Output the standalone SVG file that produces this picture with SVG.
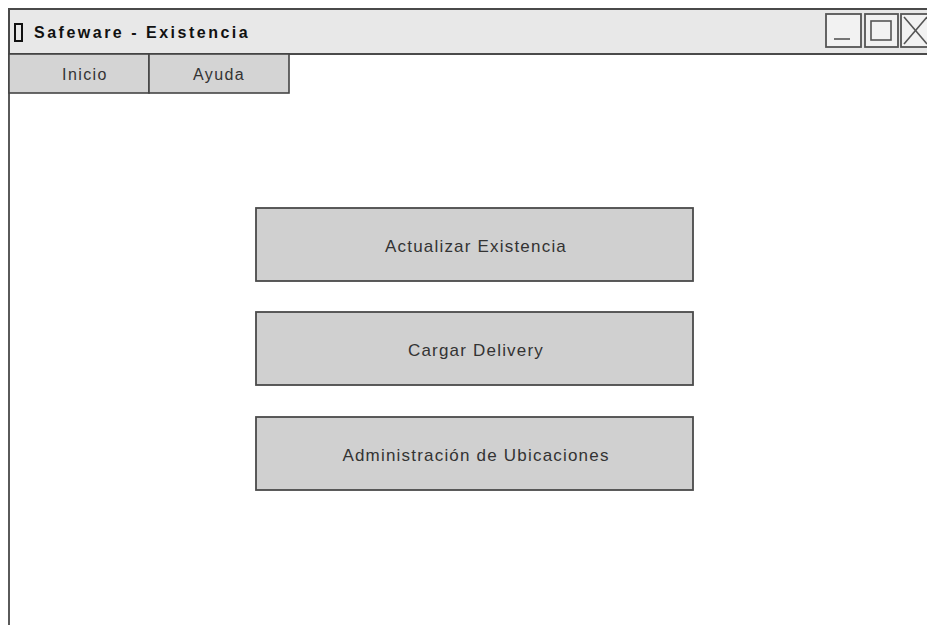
<svg xmlns="http://www.w3.org/2000/svg" width="927" height="625" viewBox="0 0 927 625">
  <defs>
    <style>
      .frame { fill: #ffffff; stroke: #5a5a5a; stroke-width: 2; }
      .titlebar { fill: #e8e8e8; stroke: #4a4a4a; stroke-width: 2; }
      .tab { fill: #d4d4d4; stroke: #444444; stroke-width: 1.6; }
      .btn { fill: #d0d0d0; stroke: #4a4a4a; stroke-width: 1.8; }
      .winbtn { fill: #f2f2f2; stroke: #555555; stroke-width: 1.8; }
      .glyph { fill: none; stroke: #555555; stroke-width: 1.6; }
      .label { font-family: "Comic Sans MS", "Liberation Sans", "DejaVu Sans", sans-serif; fill: #2a2a2a; }
      .title { font-size: 16px; font-weight: bold; letter-spacing: 2.5px; fill: #111111; }
      .menu { font-size: 16px; letter-spacing: 1.4px; text-anchor: middle; fill: #333333; }
      .action { font-size: 17px; letter-spacing: 1.2px; text-anchor: middle; fill: #333333; }
    </style>
  </defs>

  <rect x="0" y="0" width="927" height="625" fill="#ffffff"/>

  <!-- window body -->
  <g id="window">
    <rect class="frame" x="9" y="9" width="930" height="625"/>
    <rect class="titlebar" x="9" y="9" width="930" height="45"/>
    <rect x="15" y="24" width="7" height="17" fill="none" stroke="#111111" stroke-width="2"/>
    <text class="label title" x="34" y="38">Safeware - Existencia</text>
  </g>

  <!-- window controls -->
  <g id="win-minimize">
    <rect class="winbtn" x="826" y="14" width="35" height="33"/>
    <line class="glyph" x1="834" y1="39" x2="850" y2="39"/>
  </g>
  <g id="win-maximize">
    <rect class="winbtn" x="865" y="14" width="33" height="33"/>
    <rect class="glyph" x="871" y="21" width="20" height="19"/>
  </g>
  <g id="win-close">
    <rect class="winbtn" x="901" y="14" width="35" height="33"/>
    <line class="glyph" x1="904" y1="17" x2="927" y2="44"/>
    <line class="glyph" x1="927" y1="17" x2="904" y2="44"/>
  </g>

  <!-- menu bar -->
  <g id="menu-inicio">
    <rect class="tab" x="9" y="54" width="140" height="39"/>
    <text class="label menu" x="85" y="80">Inicio</text>
  </g>
  <g id="menu-ayuda">
    <rect class="tab" x="149" y="54" width="140" height="39"/>
    <text class="label menu" x="219" y="80">Ayuda</text>
  </g>

  <!-- actions -->
  <g id="btn-actualizar">
    <rect class="btn" x="256" y="208" width="437" height="73"/>
    <text class="label action" x="476" y="252">Actualizar Existencia</text>
  </g>
  <g id="btn-delivery">
    <rect class="btn" x="256" y="312" width="437" height="73"/>
    <text class="label action" x="476" y="356">Cargar Delivery</text>
  </g>
  <g id="btn-ubicaciones">
    <rect class="btn" x="256" y="417" width="437" height="73"/>
    <text class="label action" x="476" y="461">Administración de Ubicaciones</text>
  </g>

  <g id="connectors"/>
</svg>
